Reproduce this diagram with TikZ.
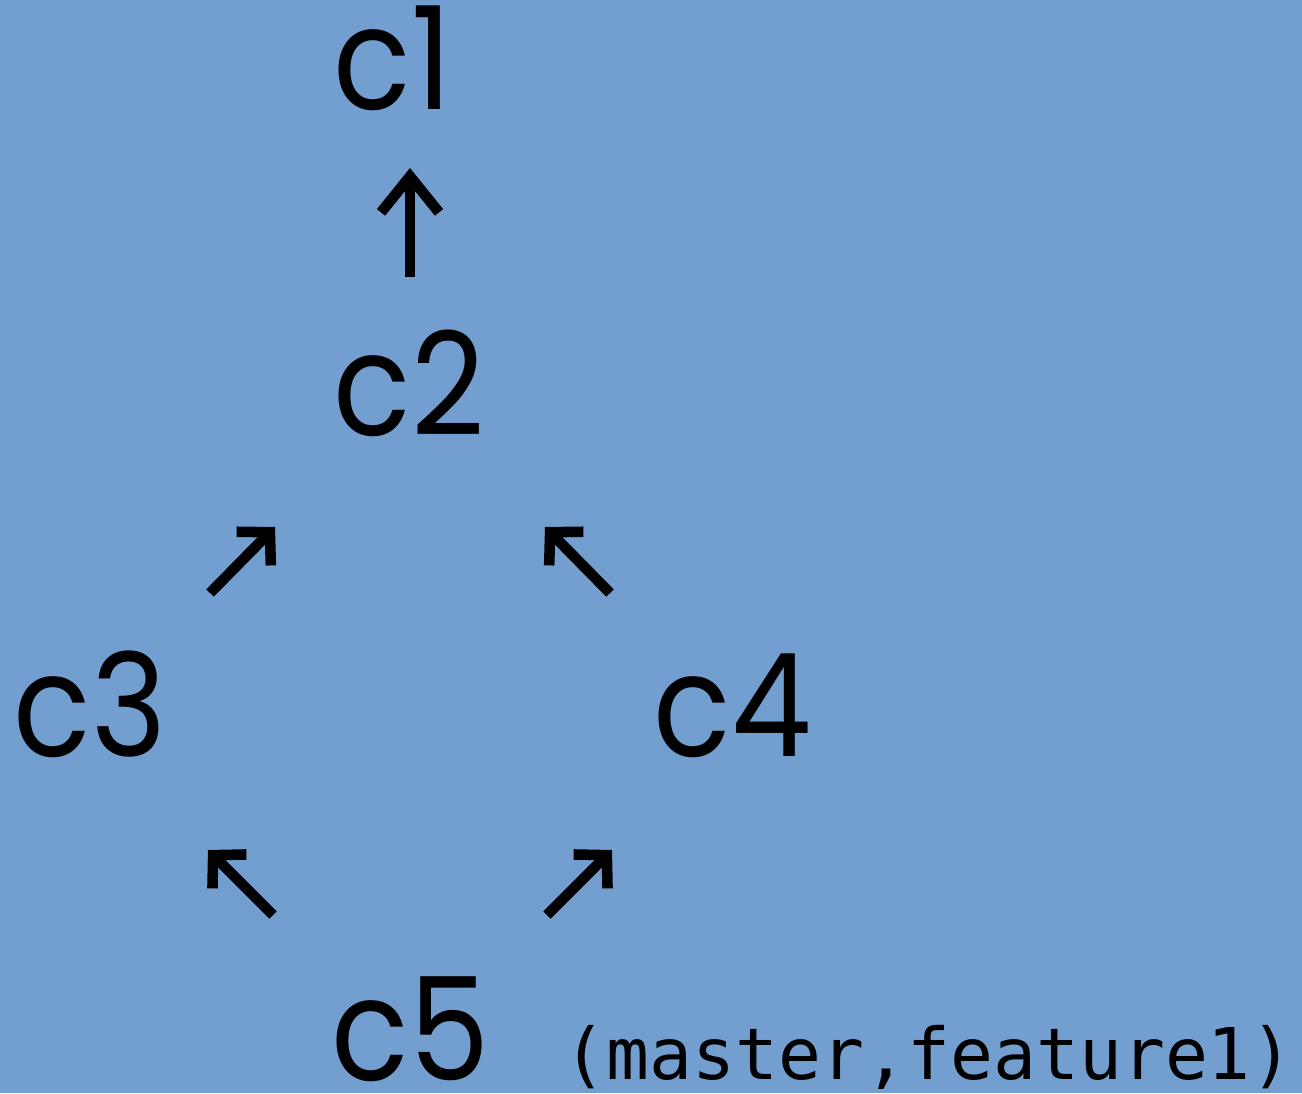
\documentclass[tikz,border=0pt]{standalone}
\usepackage{fontspec}
\usetikzlibrary{arrows.meta}
\newfontfamily\labelfont{Poppins}
\newfontfamily\reffont{DejaVu Sans Mono}
\definecolor{bgblue}{HTML}{729FCF}
\begin{document}
\begin{tikzpicture}[inner sep=0pt,
  commit/.style={anchor=base west,xscale=0.89,transform shape,font=\labelfont\fontsize{40.8}{40.8}\selectfont},
  ptr/.style={line width=3pt,-{Straight Barb[sharp,length=3.6mm,width=5.8mm]}},
  dptr/.style={line width=3pt,-{Straight Barb[sharp,length=2.3mm,width=4.8mm]}}]

\useasboundingbox[fill=bgblue] (0,0) rectangle (13.02,10.93);

\node[commit] (c1) at (3.33,9.83) {c1};
\node[commit] (c2) at (3.33,6.58) {c2};
\node[commit] (c3) at (0.13,3.37) {c3};
\node[commit] (c4) at (6.53,3.37) {c4};
\node[commit] (c5) at (3.31,0.13) {c5};
\node[anchor=base west,font=\reffont\fontsize{20.3}{20.3}\selectfont] (refs) at (5.63,0.14) {(master,feature1)};

% parent pointers
\coordinate (t21) at (4.10,8.16);
\coordinate (h21) at (4.10,9.25);
\coordinate (t32) at (2.10,5.00);
\coordinate (h32) at (2.75,5.66);
\coordinate (t42) at (6.10,5.00);
\coordinate (h42) at (5.45,5.66);
\coordinate (t53) at (2.73,1.78);
\coordinate (h53) at (2.08,2.43);
\coordinate (t54) at (5.47,1.78);
\coordinate (h54) at (6.12,2.43);

\draw[ptr] (t21) -- (h21);
\draw[dptr] (t32) -- (h32);
\draw[dptr] (t42) -- (h42);
\draw[dptr] (t53) -- (h53);
\draw[dptr] (t54) -- (h54);

\end{tikzpicture}
\end{document}
